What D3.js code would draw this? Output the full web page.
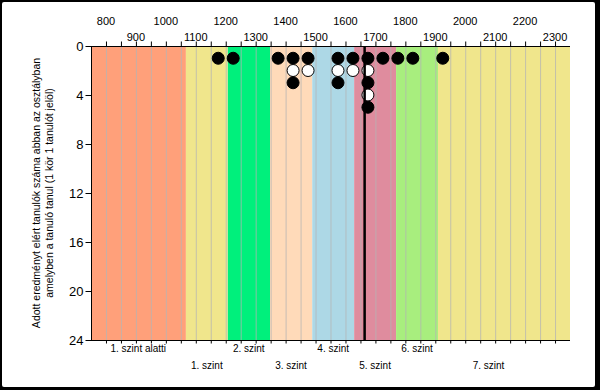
<!DOCTYPE html>
<html><head><meta charset="utf-8">
<script src="https://cdn.jsdelivr.net/npm/d3@7"></script>
<style>body{margin:0;background:#000;} svg{display:block;font-family:"Liberation Sans",Arial,sans-serif;}</style>
</head><body>
<svg id="c" width="600" height="390"></svg>
<script>
const bandStarts = [750, 1067, 1207, 1348, 1489, 1629, 1769, 1909];
const bandEnds   = [1067, 1207, 1348, 1489, 1629, 1769, 1909, 2350];
const bandLabels = ["1. szint alatti","1. szint","2. szint","3. szint","4. szint","5. szint","6. szint","7. szint"];
const bandColors = ["#FFA07A","#F0E68C","#00F07C","#FFDAB9","#ADD8E6","#DF8C9E","#A8EE7E","#F0E68C"];
const labelCenters = [908, 1137, 1277, 1418, 1559, 1699, 1839, 2078];
const binCenters = [1175, 1225, 1375, 1425, 1475, 1575, 1625, 1675, 1725, 1775, 1825, 1925];
const binCounts  = [1, 1, 1, 3, 2, 3, 2, 5, 1, 1, 1, 1];
const markerValue = 1664;
const xTickValues = d3.range(800, 2301, 100);
const yTickValues = [0, 4, 8, 12, 16, 20, 24];
const yTitle = ["Adott eredményt elért tanulók száma abban az osztályban", "amelyben a tanuló tanul (1 kör 1 tanulót jelöl)"];

const svg = d3.select("#c");
svg.append("rect").attr("x",2).attr("y",2).attr("width",593).attr("height",385).attr("fill","#fff").attr("rx",2);

const L = 91, R = 570, T = 46, B = 340;
const x = d3.scaleLinear().domain([750, 2350]).range([L, R]);
const y = d3.scaleLinear().domain([0, 24]).range([T, B]);

const g = svg.append("g");
g.selectAll("rect.band").data(bandStarts).join("rect")
  .attr("x", (d,i)=>x(d)).attr("y", T)
  .attr("width", (d,i)=>x(bandEnds[i]) - x(d)).attr("height", B - T)
  .attr("fill", (d,i)=>bandColors[i]);
const gridVals = d3.range(800, 2350, 50);
g.selectAll("line.grid").data(gridVals).join("line")
  .attr("x1", d=>x(d)+0.5).attr("x2", d=>x(d)+0.5).attr("y1", T).attr("y2", B)
  .attr("stroke", "#b4b4b4").attr("stroke-opacity", 0.75).attr("stroke-width", 1);

const axT = svg.append("g").attr("transform", `translate(0,${T+0.5})`);
axT.append("line").attr("x1", L).attr("x2", R).attr("stroke","#000");
axT.selectAll("line.t").data(gridVals).join("line")
  .attr("x1", d=>x(d)+0.5).attr("x2", d=>x(d)+0.5).attr("y1", 0).attr("y2", -5).attr("stroke","#000");
axT.selectAll("text").data(xTickValues).join("text")
  .attr("x", d=>x(d)).attr("y", (d,i)=> i%2===0 ? -22 : -6)
  .attr("text-anchor","middle").attr("font-size", 11).attr("fill","#000").text(d=>d);

const axB = svg.append("g").attr("transform", `translate(0,${B+0.5})`);
axB.append("line").attr("x1", L).attr("x2", R).attr("stroke","#000");
axB.selectAll("line.t").data(gridVals).join("line")
  .attr("x1", d=>x(d)+0.5).attr("x2", d=>x(d)+0.5).attr("y1", 0).attr("y2", 3).attr("stroke","#000");
axB.selectAll("text").data(bandLabels).join("text")
  .attr("x", (d,i)=>x(labelCenters[i])).attr("y", (d,i)=> i%2===0 ? 11 : 28)
  .attr("text-anchor","middle").attr("font-size", 10).attr("fill","#000").text(d=>d);

const axL = svg.append("g").attr("transform", `translate(${L+0.5},0)`);
axL.append("line").attr("y1", T).attr("y2", B+1).attr("stroke","#000");
axL.selectAll("line.t").data(yTickValues).join("line")
  .attr("x1", -6).attr("x2", 0).attr("y1", d=>y(d)+0.5).attr("y2", d=>y(d)+0.5).attr("stroke","#000");
axL.selectAll("text").data(yTickValues).join("text")
  .attr("x", -8).attr("y", d=>y(d)).attr("dy","0.36em")
  .attr("text-anchor","end").attr("font-size", 13).attr("fill","#000").text(d=>d);

const yt = svg.append("text").attr("transform", `translate(40,${(T+B)/2}) rotate(-90)`)
  .attr("text-anchor","middle").attr("font-size", 10.5).attr("fill","#000");
yt.selectAll("tspan").data(yTitle).join("tspan").attr("x",0).attr("dy",(d,i)=> i===0?0:13).text(d=>d);

const dots = [];
binCenters.forEach((c,i)=>{ for(let k=1;k<=binCounts[i];k++) dots.push({v:c,k}); });
svg.append("g").selectAll("circle").data(dots).join("circle")
  .attr("cx", d=>x(d.v)).attr("cy", d=>y(d.k))
  .attr("r", 6).attr("fill", d=> d.k%2===1 ? "#000" : "#fff")
  .attr("stroke","#000").attr("stroke-width",1);

svg.append("line").attr("x1", x(markerValue)).attr("x2", x(markerValue))
  .attr("y1", T).attr("y2", B).attr("stroke","#000").attr("stroke-width", 2.5);
</script>
</body></html>
